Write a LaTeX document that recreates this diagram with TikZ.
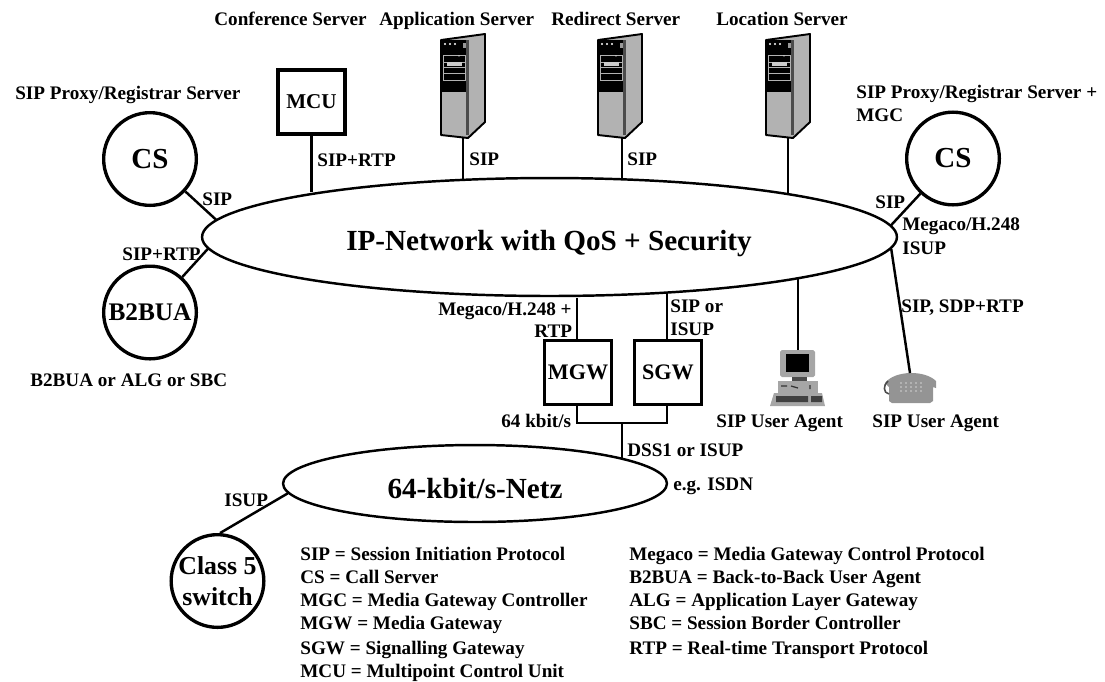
\documentclass[tikz,border=0pt]{standalone}
\usepackage{fontspec}
\setmainfont{Liberation Serif}
\usetikzlibrary{calc,shapes.geometric}

\tikzset{
  lbl/.style={inner sep=0pt,anchor=base west,font=\fontsize{10.9}{13}\selectfont\bfseries},
  big/.style={inner sep=0pt,align=center,font=\fontsize{16.6}{20}\selectfont\bfseries},
  hub/.style={draw,circle,line width=1.9pt,minimum size=1.854cm,inner sep=0pt,align=center},
  box/.style={draw,line width=1.8pt,minimum width=1.34cm,minimum height=1.28cm,inner sep=0pt,font=\fontsize{12.6}{15}\selectfont\bfseries},
  net/.style={draw,ellipse,line width=1.4pt,inner sep=0pt},
  wire/.style={line width=1.4pt},
  server/.pic={
    \draw[line width=1.1pt,fill=black!30,line join=round] (-22,-98) -- (22,-104) -- (22,-16) -- (5,0) -- (-22,-3) -- cycle;
    \fill (-21,-98) rectangle (4,-46);
    \fill[black!30] (-21,-44) rectangle (3,-5);
    \fill[black!70] (3,-98) rectangle (6,-3);
    \draw[black!30,line width=.4pt] (-20,-83) rectangle (2,-58) (-20,-76) -- (2,-76) (-20,-71) -- (2,-71) (-20,-65) -- (2,-65);
    \fill[black!20] (-16,-76) rectangle (-1,-72);
    \fill[white] (-18,-94) circle (1.1) (-13,-94) circle (1.1) (-8,-94) circle (1.1) (-4,-82) circle (.7);
    \fill[black!40] (0,-95) rectangle (3,-90);
  },
  usrpc/.pic={
    \fill[black!35,rounded corners=1pt] (-18,0) rectangle (17,27);
    \fill (-12,4) rectangle (11,22);
    \fill[black!70] (-6,27) rectangle (9,31);
    \fill[black!35] (-20,31) rectangle (20,43);
    \draw[black!80,line width=.7pt] (-17,36) -- (-11,36) (-7,36) -- (0,38) (12,35) -- (12,39);
    \fill[black!35] (-24,43) -- (24,43) -- (27,56) -- (-28,56) -- cycle;
    \fill[black!75] (-22,46) rectangle (10,52) (13,46) rectangle (24,52);
  },
  usrphone/.pic={
    \fill[black!42] (-25,10) .. controls (-15,-3) and (15,-3) .. (26,8) -- (26,15) -- (23,14) -- (23,28) -- (20,30) -- (-18,30) -- (-21,28) -- (-21,14) -- cycle;
    \draw[black!70,line width=.9pt] (-22,8) .. controls (-27,12) and (-27,20) .. (-21,21);
    \foreach \i in {-9,-4,1,6,11} \foreach \j in {10,14,18}
      \fill[black!18] (\i,\j) circle (.9);
  },
}

\begin{document}
\begin{tikzpicture}[x=0.02cm,y=-0.02cm]
\useasboundingbox (0,0) rectangle (1105,681);

\node[net,minimum width=13.9cm,minimum height=2.36cm] (ipnet) at (549.5,237) {};
\node[big] (iptext) at (549,244) {IP-Network with QoS + Security};
\node[net,minimum width=7.68cm,minimum height=1.54cm] (isdn) at (475,483.5) {};
\node[big] (isdntext) at (475,489) {64-kbit/s-Netz};

\node[hub,font=\fontsize{16.5}{18}\selectfont\bfseries] (csleft) at (150,159) {CS};
\node[hub,font=\fontsize{16.5}{18}\selectfont\bfseries] (csright) at (953,158.5) {CS};
\node[hub,font=\fontsize{14.4}{17}\selectfont\bfseries] (b2bua) at (150,312.5) {B2BUA};
\node[hub,font=\fontsize{14.7}{17.3}\selectfont\bfseries] (classfive) at (217.5,581) {Class 5\\switch};
\node[box,font=\fontsize{12}{15}\selectfont\bfseries] (mcu) at (311.5,102) {MCU};
\node[box] (mgw) at (578,372.5) {MGW};
\node[box] (sgw) at (668,372.5) {SGW};

\coordinate (appsrv) at (463,138);
\coordinate (redsrv) at (622,138);
\coordinate (locsrv) at (788,138);
\coordinate (pcagent) at (798,350);
\coordinate (phoneagent) at (910,373);
\coordinate (mgwtop) at (577,298);
\coordinate (busmgw) at (577,423);
\coordinate (bussgw) at (667,423);
\coordinate (busmid) at (622,423);
\pic at (appsrv) {server};
\pic at ($(redsrv)+(-2,0)$) {server};
\pic at (locsrv) {server};
\pic at (pcagent) {usrpc};
\pic at (phoneagent) {usrphone};

\draw[wire] (csleft) -- (ipnet.177);
\draw[wire] (b2bua) -- (ipnet.182);
\draw[wire] (mcu.south) -- (ipnet.169.8 -| mcu.south);
\draw[wire] (appsrv) -- (ipnet.146.6 -| appsrv);
\draw[wire] (redsrv) -- (ipnet.38.5 -| redsrv);
\draw[wire] (locsrv) -- (ipnet.10.2 -| locsrv);
\draw[wire] (csright) -- (ipnet.2.4);
\draw[wire] (pcagent) -- (ipnet.-9.4 -| pcagent);
\draw[wire] (phoneagent) -- (ipnet.-2.7);
\draw[wire] (mgwtop) -- (mgw.north -| mgwtop);
\draw[wire] (sgw.north -| bussgw) -- (ipnet.-25.3 -| bussgw);
\draw[wire] (mgw.south -| busmgw) -- (busmgw) -- (bussgw) -- (sgw.south -| bussgw);
\draw[wire] (busmid) -- (isdn.9.5 -| busmid);
\draw[wire] (classfive.87) -- (isdn.183.7);

% server names
\node[lbl] (confname) at (214,25) {Conference Server};
\node[lbl] (appname) at (379,25) {Application Server};
\node[lbl] (redname) at (551,25) {Redirect Server};
\node[lbl] (locname) at (716,25) {Location Server};
\node[lbl] (proxyl) at (15,99) {SIP Proxy/Registrar Server};
\node[lbl] (proxyr) at (856,98) {SIP Proxy/Registrar Server +};
\node[lbl] (mgcname) at (856,121) {MGC};
\node[lbl] (b2name) at (30,386) {B2BUA or ALG or SBC};
\node[lbl] (uapc) at (716,427) {SIP User Agent};
\node[lbl] (uaphone) at (872,427) {SIP User Agent};

% line labels
\node[lbl] (lsipcs) at (202,205) {SIP};
\node[lbl] (lsiprtp) at (122,260) {SIP+RTP};
\node[lbl] (lmcu) at (317,166) {SIP+RTP};
\node[lbl] (lapp) at (469,165) {SIP};
\node[lbl] (lred) at (627,165) {SIP};
\node[lbl] (lcsr) at (875,208) {SIP};
\node[lbl] (lmeg) at (902,230) {Megaco/H.248};
\node[lbl] (lisup) at (902,254) {ISUP};
\node[lbl] (lphone) at (901,312) {SIP, SDP+RTP};
\node[lbl] (lmgwa) at (438,315) {Megaco/H.248 +};
\node[lbl] (lmgwb) at (534,337) {RTP};
\node[lbl] (lsgwa) at (670,312) {SIP or};
\node[lbl] (lsgwb) at (670,335) {ISUP};
\node[lbl] (lkbit) at (501,427) {64 kbit/s};
\node[lbl] (ldss) at (627,456) {DSS1 or ISUP};
\node[lbl] (lisdn) at (673,490) {e.g. ISDN};
\node[lbl] (lclass) at (224,506) {ISUP};

% abbreviations
\foreach \i/\y/\t in {1/560/SIP = Session Initiation Protocol,2/583/CS = Call Server,3/606/MGC = Media Gateway Controller,4/629/MGW = Media Gateway,5/654/SGW = Signalling Gateway,6/677/MCU = Multipoint Control Unit}
  \node[lbl] (abbl\i) at (300,\y) {\t};
\foreach \i/\y/\t in {1/560/Megaco = Media Gateway Control Protocol,2/583/B2BUA = Back-to-Back User Agent,3/606/ALG = Application Layer Gateway,4/629/SBC = Session Border Controller,5/654/RTP = Real-time Transport Protocol}
  \node[lbl] (abbr\i) at (629,\y) {\t};
\end{tikzpicture}
\end{document}
